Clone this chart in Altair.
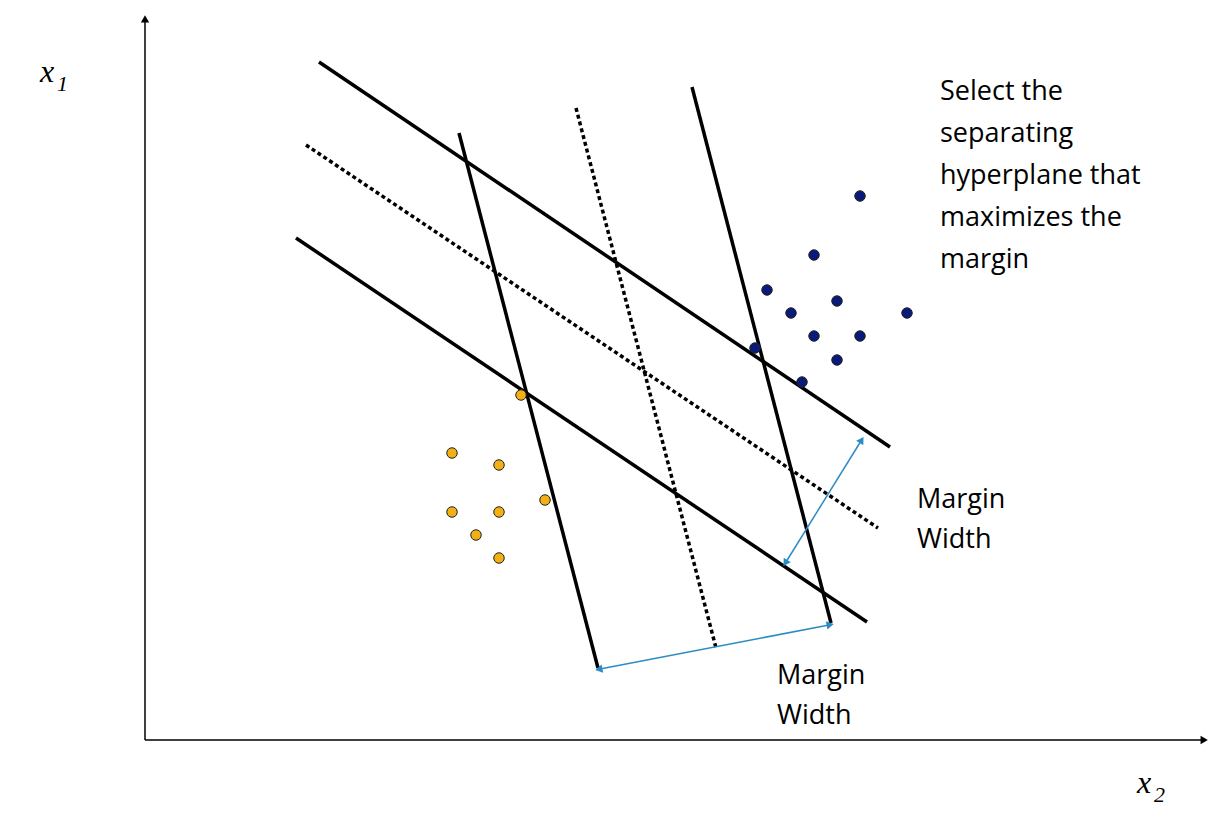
import pandas as pd
import altair as alt

# diagram coordinates (pixel-like units, y grows downward)
solid_x1 = [319, 296, 459, 692]
solid_y1 = [62, 238, 133, 87]
solid_x2 = [890, 867, 598, 831]
solid_y2 = [447, 622, 668, 623]

dotted_x1 = [306, 576]
dotted_y1 = [145, 108]
dotted_x2 = [878, 716]
dotted_y2 = [528, 648]

axis_x1 = [145, 145]
axis_y1 = [740, 740]
axis_x2 = [145, 1203]
axis_y2 = [20, 740]

margin_x1 = [600, 786]
margin_y1 = [669, 562]
margin_x2 = [829, 861]
margin_y2 = [625, 441]

blue_x = [860, 814, 767, 791, 837, 907, 814, 860, 755, 837, 802]
blue_y = [196, 255, 290, 313, 301, 313, 336, 336, 348, 360, 382]
orange_x = [521, 452, 499, 545, 452, 499, 476, 499]
orange_y = [395, 453, 465, 500, 512, 512, 535, 558]

head_x = [145, 1203, 600, 829, 786, 861]
head_y = [20, 740, 669, 625, 562, 441]
head_angle = [0, 90, 259, 79, 212, 32]
head_color = ["black", "black", "#2b8cc4", "#2b8cc4", "#2b8cc4", "#2b8cc4"]

note_lines = ["Select the", "separating", "hyperplane that", "maximizes the", "margin"]
note_y = [92, 134, 176, 218, 260]
label_text = ["Margin", "Width", "Margin", "Width"]
label_x = [917, 917, 777, 777]
label_y = [500, 540, 676, 716]

X = alt.Scale(domain=[8, 1221])
Y = alt.Scale(domain=[811, 8])
noax = None


def rules(x1, y1, x2, y2, color, width, dash=None):
    df = pd.DataFrame({"x": x1, "y": y1, "x2": x2, "y2": y2})
    kw = dict(color=color, strokeWidth=width)
    if dash:
        kw["strokeDash"] = dash
    return alt.Chart(df).mark_rule(**kw).encode(
        x=alt.X("x:Q", scale=X, axis=noax),
        y=alt.Y("y:Q", scale=Y, axis=noax),
        x2="x2:Q", y2="y2:Q",
    )


def dots(xs, ys, fill):
    df = pd.DataFrame({"x": xs, "y": ys})
    return alt.Chart(df).mark_point(
        filled=True, fill=fill, stroke="#222", strokeWidth=1, size=110, opacity=1
    ).encode(x=alt.X("x:Q", scale=X, axis=noax), y=alt.Y("y:Q", scale=Y, axis=noax))


heads = alt.Chart(pd.DataFrame({"x": head_x, "y": head_y, "a": head_angle, "c": head_color})).mark_point(
    shape="triangle", filled=True, size=70, opacity=1
).encode(
    x=alt.X("x:Q", scale=X, axis=noax),
    y=alt.Y("y:Q", scale=Y, axis=noax),
    angle=alt.Angle("a:Q", scale=None),
    color=alt.Color("c:N", scale=None),
)

note = alt.Chart(pd.DataFrame({"t": note_lines, "y": note_y, "x": [940] * 5})).mark_text(
    align="left", baseline="middle", font="Open Sans", fontSize=27, color="black"
).encode(x=alt.X("x:Q", scale=X, axis=noax), y=alt.Y("y:Q", scale=Y, axis=noax), text="t:N")

labels = alt.Chart(pd.DataFrame({"t": label_text, "x": label_x, "y": label_y})).mark_text(
    align="left", baseline="middle", font="Open Sans", fontSize=27, color="black"
).encode(x=alt.X("x:Q", scale=X, axis=noax), y=alt.Y("y:Q", scale=Y, axis=noax), text="t:N")

var_df = pd.DataFrame({"t": ["x", "x"], "x": [40, 1137], "y": [72, 783]})
sub_df = pd.DataFrame({"t": ["1", "2"], "x": [57, 1154], "y": [84, 795]})
vars_ = alt.Chart(var_df).mark_text(
    align="left", baseline="middle", font="Liberation Serif", fontStyle="italic", fontSize=32
).encode(x=alt.X("x:Q", scale=X, axis=noax), y=alt.Y("y:Q", scale=Y, axis=noax), text="t:N")
subs = alt.Chart(sub_df).mark_text(
    align="left", baseline="middle", font="Liberation Serif", fontStyle="italic", fontSize=22
).encode(x=alt.X("x:Q", scale=X, axis=noax), y=alt.Y("y:Q", scale=Y, axis=noax), text="t:N")

chart = alt.layer(
    rules(axis_x1, axis_y1, axis_x2, axis_y2, "black", 1.5),
    rules(solid_x1, solid_y1, solid_x2, solid_y2, "black", 3.5),
    rules(dotted_x1, dotted_y1, dotted_x2, dotted_y2, "black", 3.5, [4, 3]),
    rules(margin_x1, margin_y1, margin_x2, margin_y2, "#2b8cc4", 1.5),
    heads,
    dots(blue_x, blue_y, "#0a1a78"),
    dots(orange_x, orange_y, "#f2b014"),
    note, labels, vars_, subs,
).properties(width=1213, height=803, padding=0).configure_view(stroke=None)

chart.save("out.html", embed_options={"renderer": "svg", "actions": False})
